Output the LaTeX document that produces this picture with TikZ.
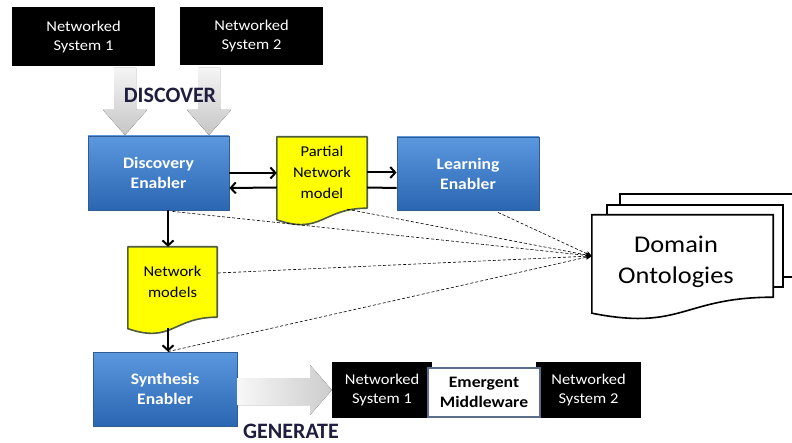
\documentclass[tikz,border=0pt]{standalone}
\usepackage{fontspec}
\setmainfont{Carlito}[FakeStretch=1.1]
\newfontfamily\plainfont{Carlito}
\usetikzlibrary{arrows.meta,calc,backgrounds}
\definecolor{enbluetop}{RGB}{92,152,222}
\definecolor{enbluebot}{RGB}{42,102,178}
\definecolor{enborder}{RGB}{48,92,150}
\definecolor{docyellow}{RGB}{255,255,0}
\definecolor{docborder}{RGB}{80,92,62}
\definecolor{navy}{RGB}{32,30,62}
\definecolor{mwborder}{RGB}{90,110,140}
\begin{document}
\begin{tikzpicture}[x=1pt,y=-1pt,
  enabler/.style={rectangle, draw=enborder, line width=0.8pt, top color=enbluetop, bottom color=enbluebot, text=white, font=\fontsize{16}{20}\selectfont\bfseries, align=center, inner sep=0pt},
  blackbox/.style={rectangle, fill=black, text=white, font=\fontsize{15}{19}\selectfont, align=center, inner sep=0pt},
  mwbox/.style={rectangle, fill=white, draw=mwborder, line width=1.6pt, text=black, font=\fontsize{16}{20}\selectfont\bfseries, align=center, inner sep=0pt},
  doc/.style={rectangle, inner sep=0pt, align=center, font=\fontsize{15}{21}\selectfont},
  docshape/.style={fill=docyellow, draw=docborder, line width=1.6pt, line join=round},
  pageshape/.style={fill=white, draw=black, line width=1.6pt},
  link/.style={line width=2pt, -{Straight Barb[length=5pt,width=11pt]}},
  plainlink/.style={line width=2pt},
  dashlink/.style={densely dashed, line width=0.6pt, -{Stealth[length=6pt,width=5pt]}},
  grayarrow/.style={top color=gray!8, bottom color=gray!45},
  bigword/.style={font=\plainfont\fontsize{22}{22}\selectfont\bfseries, text=navy, inner sep=0pt}
  ]
\useasboundingbox (0,0) rectangle (792,443);
\begin{scope}[on background layer]
\fill[white] (0,0) rectangle (792,443);
\end{scope}

% top networked systems
\node[blackbox, minimum width=143pt, minimum height=59pt] (ns1) at (83.5,37) {Networked\\System 1};
\node[blackbox, minimum width=143pt, minimum height=58pt] (ns2) at (251.5,36.5) {Networked\\System 2};

% gray block arrows (DISCOVER)
\fill[grayarrow] (114,68) -- (136,68) -- (136,110) -- (147,110) -- (125,135) -- (103,110) -- (114,110) -- cycle;
\fill[grayarrow] (198,68) -- (220,68) -- (220,110) -- (231,110) -- (209,135) -- (187,110) -- (198,110) -- cycle;
\node[bigword] (discover) at (170,95) {DISCOVER};

% enablers
\node[enabler, minimum width=141pt, minimum height=74pt] (disc) at (158.5,173) {Discovery\\Enabler};
\node[enabler, minimum width=142pt, minimum height=73pt] (learn) at (468,173.5) {Learning\\Enabler};
\node[enabler, minimum width=144pt, minimum height=74pt] (synth) at (165,389) {Synthesis\\Enabler};

% documents
\node[doc, minimum width=90pt, minimum height=71pt] (pnm) at (322,172.5) {Partial\\Network\\model};
\node[doc, minimum width=89pt, minimum height=70pt] (nm) at (172.5,282) {Network\\models};
\begin{scope}[on background layer]
\draw[docshape] (pnm.north west) -- (pnm.north east) -- (pnm.south east)
  .. controls +(-45,0) and +(45,15.3) .. ($(pnm.south west)+(0,11.7)$) -- cycle;
\draw[docshape] (nm.north west) -- (nm.north east) -- (nm.south east)
  .. controls +(-44.5,0) and +(44.5,15.1) .. ($(nm.south west)+(0,11.5)$) -- cycle;
\end{scope}

% domain ontologies (multi document)
\draw[pageshape] (620,194) rectangle (800,277);
\draw[pageshape] (607,205) rectangle (783,287);
\node[rectangle, inner sep=0pt, minimum width=181pt, minimum height=82pt] (onto) at (682.5,256) {};
\draw[pageshape] (onto.north west) -- (onto.north east) -- (onto.south east)
  .. controls +(-90.5,0) and +(90.5,18) .. ($(onto.south west)+(0,16)$) -- cycle;
\node[font=\fontsize{24}{31}\selectfont, align=center, inner sep=0pt] (ontotext) at (676,262) {Domain\\Ontologies};

% solid arrows
\draw[link] (disc.east) -- (disc.east -| pnm.west);
\draw[link] ($(pnm.west)+(0,15)$) -- ($(disc.east)+(0,15)$);
\draw[link] (pnm.east) -- (pnm.east -| learn.west);
\draw[plainlink] ($(learn.west)+(0,14.5)$) -- ($(pnm.east)+(0,15)$);
\draw[link] ($(disc.south)+(9.5,0)$) coordinate (a1) -- (a1 |- nm.north);
\draw[link] ($(nm.south)+(-4.5,11)$) coordinate (a2) -- (a2 |- synth.north);

% dashed links to ontologies
\draw[dashlink] ($(disc.south)+(14,1)$) -- (onto.west);
\draw[dashlink] ($(pnm.south)+(25,1)$) -- (onto.west);
\draw[dashlink] ($(learn.south)+(30,2)$) -- (onto.west);
\draw[dashlink] ($(nm.east)+(1,-9)$) -- (onto.west);
\draw[dashlink] ($(synth.north)+(3,0)$) -- (onto.west);

% generated system
\node[blackbox, minimum width=100pt, minimum height=56pt] (ns1b) at (382,390) {Networked\\System 1};
\node[blackbox, minimum width=105pt, minimum height=56pt] (ns2b) at (588.5,390) {Networked\\System 2};
\node[mwbox, minimum width=112pt, minimum height=49pt] (mw) at (484,392.5) {Emergent\\Middleware};

% GENERATE block arrow
\fill[left color=gray!6, right color=gray!40] (synth.east |- 0,378) -- (310,378) -- (310,365) -- (ns1b.west) -- (310,415) -- (310,405) -- (synth.east |- 0,405) -- cycle;
\node[bigword] (generate) at (291,431) {GENERATE};
\end{tikzpicture}
\end{document}
